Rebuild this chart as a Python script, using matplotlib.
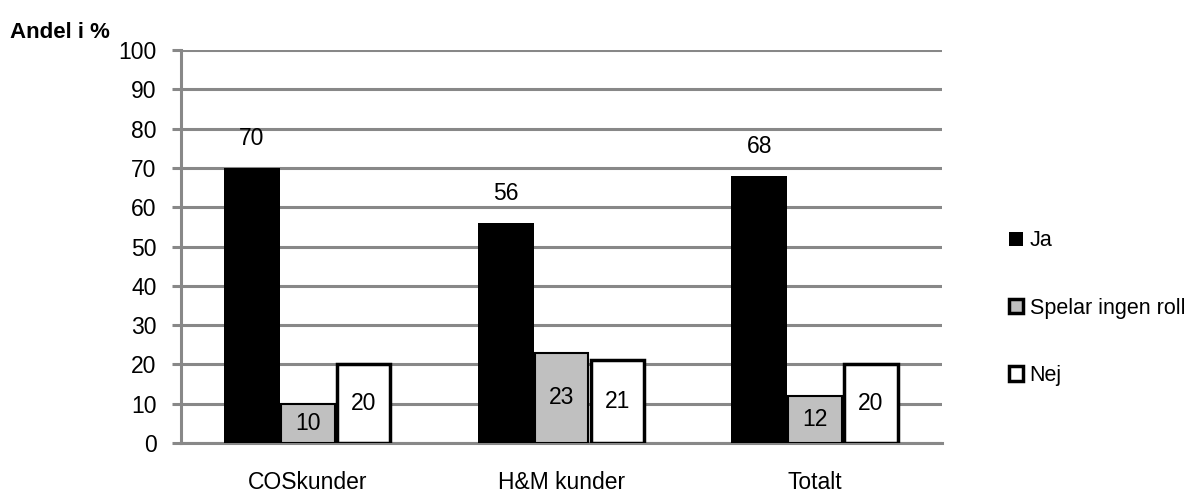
import numpy as np
import matplotlib.pyplot as plt
from matplotlib.patches import Patch

plt.rcParams["font.family"] = ["Liberation Sans", "DejaVu Sans"]

categories = ["COSkunder", "H&M kunder", "Totalt"]
series = ["Ja", "Spelar ingen roll", "Nej"]
ja = [70, 56, 68]
spelar = [10, 23, 12]
nej = [20, 21, 20]
yticks = [0, 10, 20, 30, 40, 50, 60, 70, 80, 90, 100]

GRID = "#888888"

fig = plt.figure(figsize=(11.93, 4.98), dpi=100)
ax = fig.add_axes([0.1517, 0.1104, 0.6379, 0.7892])

x = np.arange(len(categories))
w = 0.22
ax.bar(x - w, ja, w, color="black", edgecolor="black", linewidth=0, zorder=3)
ax.bar(x, spelar, w * 0.96, color="#c0c0c0", edgecolor="black", linewidth=1.5, zorder=3)
ax.bar(x + w, nej, w * 0.96, color="white", edgecolor="black", linewidth=2.5, zorder=3)

# value labels
for xi, v in zip(x - w, ja):
    ax.annotate(str(v), (xi, v), xytext=(0, 21), textcoords="offset points",
                ha="center", va="center", fontsize=16.5)
for xi, v in zip(x, spelar):
    ax.text(xi, v / 2, str(v), ha="center", va="center", fontsize=16.5, zorder=4)
for xi, v in zip(x + w, nej):
    ax.text(xi, v / 2, str(v), ha="center", va="center", fontsize=16.5, zorder=4)

ax.set_xlim(-0.5, 2.5)
ax.set_ylim(0, 100)
ax.set_yticks(yticks)
ax.set_xticks(x)
ax.set_xticklabels(categories)
ax.tick_params(axis="y", length=6.5, width=2.2, color=GRID, pad=11, labelsize=16.5)
ax.tick_params(axis="x", length=0, pad=20, labelsize=16.5)
ax.yaxis.grid(True, color=GRID, linewidth=2.2, zorder=0)
ax.set_axisbelow(True)
for s in ["top", "right"]:
    ax.spines[s].set_visible(False)
for s in ["left", "bottom"]:
    ax.spines[s].set_color(GRID)
    ax.spines[s].set_linewidth(2.2)

fig.text(0.008, 0.935, "Andel i %", fontsize=16, fontweight="bold", ha="left", va="center")

handles = [
    Patch(facecolor="black", edgecolor="black", linewidth=0),
    Patch(facecolor="#c0c0c0", edgecolor="black", linewidth=2.5),
    Patch(facecolor="white", edgecolor="black", linewidth=2.5),
]
fig.legend(handles, series, loc="center left", bbox_to_anchor=(0.846, 0.381),
           frameon=False, fontsize=15.5, handlelength=0.65, handleheight=0.65,
           handletextpad=0.3, labelspacing=2.15, borderpad=0, borderaxespad=0)

fig.savefig("out.png", dpi=100)
